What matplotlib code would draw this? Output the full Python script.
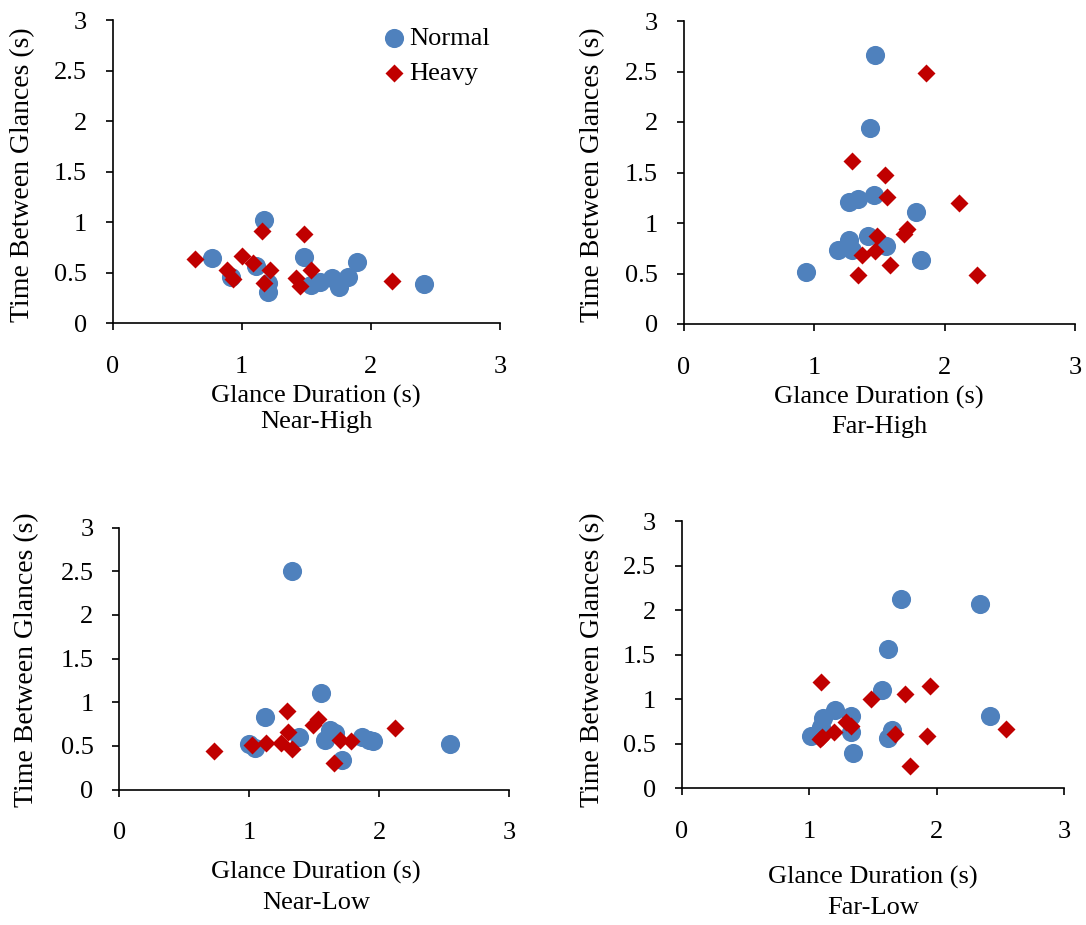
import matplotlib
matplotlib.use('Agg')
import matplotlib.pyplot as plt
from matplotlib.ticker import FuncFormatter

plt.rcParams['font.family'] = ['Liberation Serif', 'DejaVu Serif']

# data: glance duration (x) / time between glances (y)
near_high_normal_x = [1.17, 0.77, 0.92, 1.11, 1.20, 1.20, 1.48, 1.54, 1.61, 1.70, 1.75, 1.82, 1.89, 2.41]
near_high_normal_y = [1.02, 0.65, 0.46, 0.57, 0.31, 0.40, 0.66, 0.38, 0.41, 0.45, 0.36, 0.46, 0.61, 0.39]
near_high_heavy_x = [0.64, 0.89, 0.93, 1.00, 1.09, 1.16, 1.22, 1.17, 1.48, 1.42, 1.45, 1.54, 2.16]
near_high_heavy_y = [0.64, 0.53, 0.44, 0.67, 0.60, 0.91, 0.53, 0.40, 0.88, 0.45, 0.37, 0.53, 0.42]

far_high_normal_x = [1.47, 1.43, 1.27, 1.34, 1.46, 1.78, 1.27, 1.18, 1.29, 1.41, 1.55, 1.82, 0.94]
far_high_normal_y = [2.66, 1.94, 1.21, 1.24, 1.28, 1.11, 0.83, 0.73, 0.73, 0.87, 0.77, 0.63, 0.51]
far_high_heavy_x = [1.86, 1.29, 1.54, 1.56, 2.11, 1.71, 1.69, 1.48, 1.47, 1.37, 1.58, 1.34, 2.25]
far_high_heavy_y = [2.49, 1.61, 1.48, 1.26, 1.20, 0.94, 0.89, 0.87, 0.72, 0.68, 0.58, 0.49, 0.49]

near_low_normal_x = [1.33, 1.55, 1.12, 1.00, 1.04, 1.38, 1.62, 1.66, 1.58, 1.71, 1.87, 1.95, 1.92, 2.54]
near_low_normal_y = [2.50, 1.11, 0.83, 0.52, 0.47, 0.60, 0.68, 0.65, 0.57, 0.34, 0.60, 0.56, 0.57, 0.52]
near_low_heavy_x = [0.73, 1.02, 1.13, 1.24, 1.33, 1.30, 1.29, 1.49, 1.53, 1.70, 1.78, 1.65, 2.12]
near_low_heavy_y = [0.44, 0.51, 0.53, 0.53, 0.46, 0.66, 0.90, 0.74, 0.81, 0.57, 0.55, 0.30, 0.70]

far_low_normal_x = [1.72, 2.34, 1.62, 1.57, 2.42, 1.20, 1.11, 1.09, 1.33, 1.33, 1.01, 1.65, 1.62, 1.34]
far_low_normal_y = [2.13, 2.07, 1.57, 1.10, 0.81, 0.88, 0.79, 0.69, 0.81, 0.63, 0.59, 0.66, 0.57, 0.40]
far_low_heavy_x = [1.09, 1.48, 1.75, 1.95, 1.29, 1.33, 1.19, 1.10, 1.08, 1.67, 1.92, 1.79, 2.54]
far_low_heavy_y = [1.19, 1.00, 1.06, 1.15, 0.74, 0.70, 0.63, 0.58, 0.55, 0.61, 0.59, 0.25, 0.67]

panel_names = ['Near-High', 'Far-High', 'Near-Low', 'Far-Low']
x_ticks = [0, 1, 2, 3]
y_ticks = [0, 0.5, 1, 1.5, 2, 2.5, 3]

BLUE = '#4F81BD'
RED = '#C00000'
FS = 19

W, H = 1086, 925


def px_rect(left, right, top, bottom):
    # pixel box -> figure fraction rect
    return [left / W, 1 - bottom / H, (right - left) / W, (bottom - top) / H]


def plot_panel(ax, nx, ny, hx, hy, legend=False):
    ax.scatter(nx, ny, s=190, marker='o', color=BLUE, linewidths=0, label='Normal', zorder=3)
    ax.scatter(hx, hy, s=84, marker='D', color=RED, linewidths=0, label='Heavy', zorder=4)
    ax.set_xlim(0, 3)
    ax.set_ylim(0, 3)
    ax.set_xticks(x_ticks)
    ax.set_yticks(y_ticks)
    fmt = FuncFormatter(lambda v, p: '%g' % v)
    ax.xaxis.set_major_formatter(fmt)
    ax.yaxis.set_major_formatter(fmt)
    for side in ['top', 'right']:
        ax.spines[side].set_visible(False)
    for side in ['left', 'bottom']:
        ax.spines[side].set_linewidth(1.2)
    ax.tick_params(axis='x', direction='out', length=5, width=1.2, pad=18.5, labelsize=FS)
    ax.tick_params(axis='y', direction='out', length=5, width=1.2, pad=13.5, labelsize=FS)
    if legend:
        ax.legend(loc='upper left', bbox_to_anchor=(0.70, 0.98), frameon=False, fontsize=FS,
                  scatterpoints=1, handlelength=0.8, handletextpad=0.15, labelspacing=0.45,
                  borderpad=0, borderaxespad=0)


fig = plt.figure(figsize=(W / 100, H / 100), dpi=100)

ax1 = fig.add_axes(px_rect(112.5, 500, 20.3, 323.3))
ax2 = fig.add_axes(px_rect(683.7, 1075, 21, 324))
ax3 = fig.add_axes(px_rect(119.3, 509.3, 527.5, 789.5))
ax4 = fig.add_axes(px_rect(681.8, 1064.3, 521.3, 788.3))

plot_panel(ax1, near_high_normal_x, near_high_normal_y, near_high_heavy_x, near_high_heavy_y, legend=True)
plot_panel(ax2, far_high_normal_x, far_high_normal_y, far_high_heavy_x, far_high_heavy_y)
plot_panel(ax3, near_low_normal_x, near_low_normal_y, near_low_heavy_x, near_low_heavy_y)
plot_panel(ax4, far_low_normal_x, far_low_normal_y, far_low_heavy_x, far_low_heavy_y)

# axis titles placed like the excel layout (pixel centres)
xlab_pos = [(316, 396, 422), (879, 397, 427), (316, 872, 903), (873, 877, 908)]
ylab_pos = [(23, 175), (593, 175), (27, 660), (593, 660)]
for name, (cx, y1, y2), (yx, yy) in zip(panel_names, xlab_pos, ylab_pos):
    fig.text(cx / W, 1 - y1 / H, 'Glance Duration (s)', ha='center', va='center', fontsize=FS)
    fig.text(cx / W, 1 - y2 / H, name, ha='center', va='center', fontsize=FS)
    fig.text(yx / W, 1 - yy / H, 'Time Between Glances (s)', ha='center', va='center',
             rotation=90, fontsize=20)

fig.savefig('out.png', dpi=100)
